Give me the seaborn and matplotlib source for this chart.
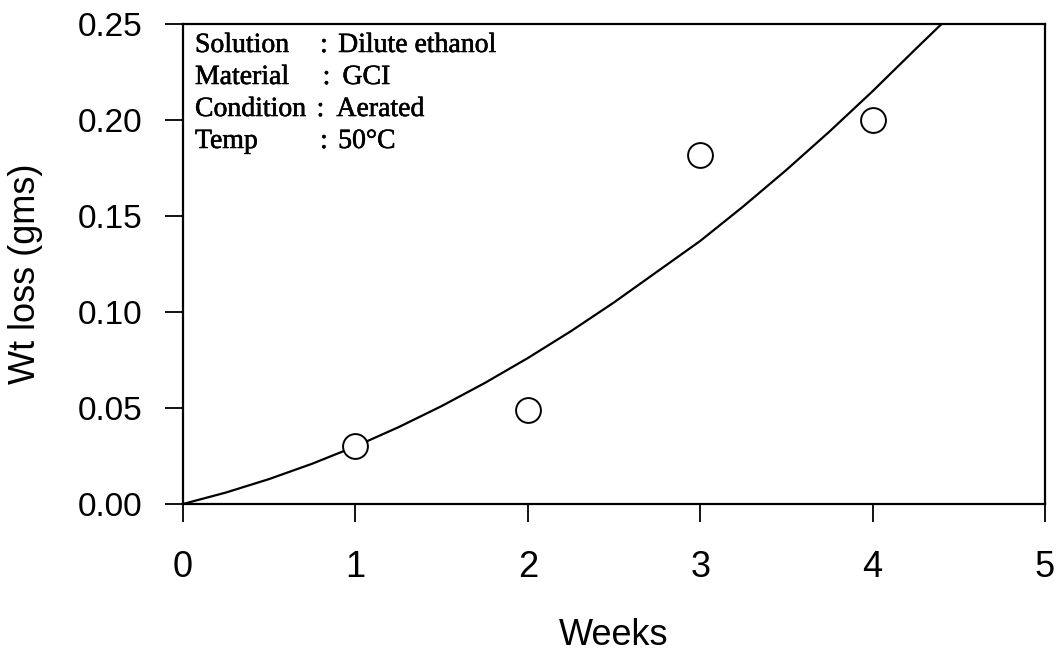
import matplotlib
matplotlib.use("Agg")
import matplotlib.pyplot as plt
import matplotlib.patheffects as pe
import seaborn as sns
import pandas as pd

# Measured points
weeks = [1, 2, 3, 4]
wt_loss = [0.030, 0.049, 0.182, 0.200]

# Fitted curve, values
fit_weeks = [0, 0.25, 0.5, 0.75, 1.0, 1.25, 1.5, 1.75, 2.0, 2.25, 2.5,
             2.75, 3.0, 3.25, 3.5, 3.75, 4.0, 4.25, 4.4]
fit_wt_loss = [0.0, 0.006, 0.013, 0.021, 0.030, 0.040, 0.051, 0.063, 0.076,
               0.090, 0.105, 0.121, 0.137, 0.155, 0.174, 0.194, 0.215,
               0.237, 0.250]

x_ticks = [0, 1, 2, 3, 4, 5]
y_ticks = [0.00, 0.05, 0.10, 0.15, 0.20, 0.25]
y_tick_labels = ["0.00", "0.05", "0.10", "0.15", "0.20", "0.25"]

info_keys = ["Solution", "Material", "Condition", "Temp"]
info_vals = ["Dilute ethanol", "GCI", "Aerated", "50°C"]

sns.set_style("ticks")
plt.rcParams["font.family"] = ["Liberation Sans", "DejaVu Sans"]

fig = plt.figure(figsize=(10.58, 6.57), dpi=100)
ax = fig.add_axes([183 / 1058, 1 - 504 / 657, (1045 - 183) / 1058, (504 - 24) / 657])

fit_df = pd.DataFrame({"Weeks": fit_weeks, "Wt loss": fit_wt_loss})
pts_df = pd.DataFrame({"Weeks": weeks, "Wt loss": wt_loss})

sns.lineplot(data=fit_df, x="Weeks", y="Wt loss", ax=ax, color="black",
             linewidth=1.6, sort=True, zorder=2)
sns.scatterplot(data=pts_df, x="Weeks", y="Wt loss", ax=ax, s=320,
                facecolor="white", edgecolor="black", linewidth=1.4, zorder=3)

ax.set_xlim(0, 5)
ax.set_ylim(0, 0.25)
ax.set_xticks(x_ticks)
ax.set_yticks(y_ticks)
ax.set_yticklabels(y_tick_labels)

for s in ax.spines.values():
    s.set_linewidth(1.6)
    s.set_color("black")

ax.tick_params(axis="both", direction="out", length=13, width=1.3,
               colors="black", labelcolor="black")
ax.tick_params(axis="x", pad=20, labelsize=26)
ax.tick_params(axis="y", pad=16, labelsize=24)

ax.set_xlabel("Weeks", fontsize=26, color="black")
ax.set_ylabel("Wt loss (gms)", fontsize=26, color="black")
ax.xaxis.set_label_coords(0.5, -0.238)
ax.yaxis.set_label_coords(-0.162, 0.48)

serif = ["Liberation Serif", "DejaVu Serif"]
stroke = [pe.withStroke(linewidth=0.4, foreground="black")]
row_base = [0.9417, 0.875, 0.8083, 0.7417]
key_x = [0.0139, 0.0139, 0.0139, 0.0139]
colon_x = [0.159, 0.162, 0.155, 0.159]
val_x = [0.180, 0.185, 0.178, 0.180]
for k, v, yb, kx, cx, vx in zip(info_keys, info_vals, row_base, key_x, colon_x, val_x):
    for xx, txt in ((kx, k), (cx, ":"), (vx, v)):
        ax.text(xx, yb, txt, transform=ax.transAxes, fontsize=20, family=serif,
                va="baseline", ha="left", color="black", path_effects=stroke)

fig.savefig("out.png", dpi=100)
